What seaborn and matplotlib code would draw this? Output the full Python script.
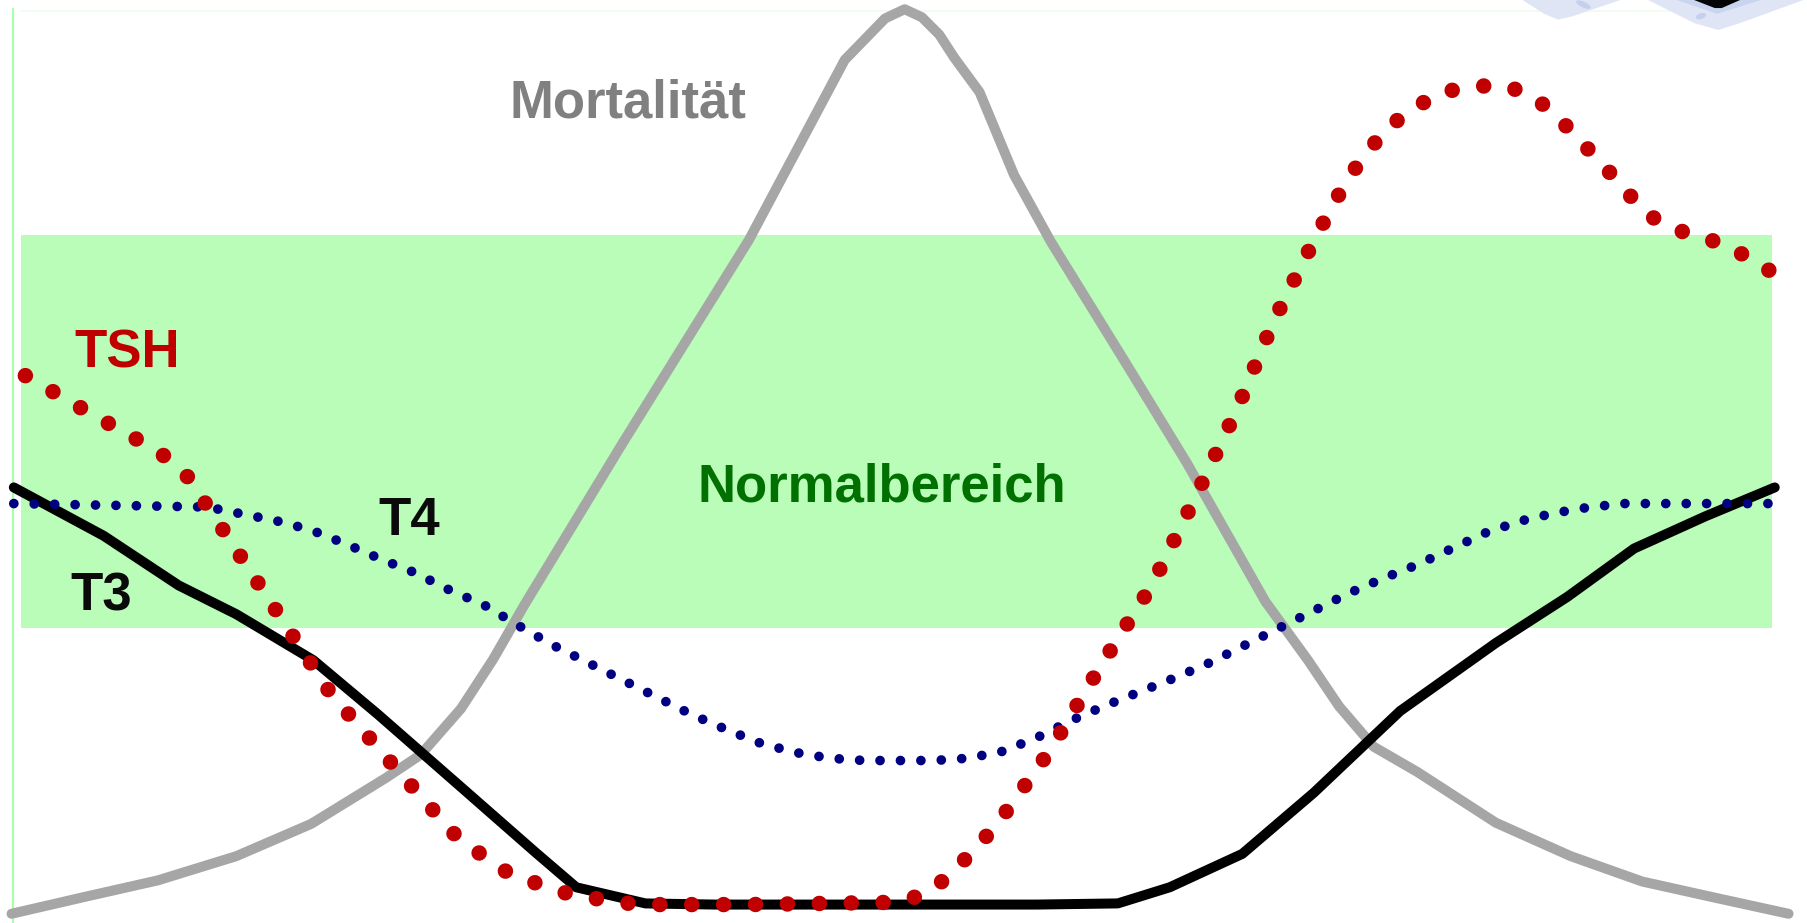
import matplotlib
matplotlib.use("Agg")
import matplotlib.pyplot as plt
import seaborn as sns
import pandas as pd
import numpy as np
from matplotlib.patches import Rectangle, Polygon, Ellipse

sns.set_theme(style="white")
plt.rcParams['font.family'] = ['Liberation Sans', 'DejaVu Sans']

# ---- data (x = position along time axis, y = level, image-like units, y grows downward) ----
t3_x = [12, 90, 155, 205, 272, 328, 400, 465, 500, 560, 620, 700, 800, 900, 970, 1015, 1078, 1140, 1215, 1298, 1360, 1418, 1480, 1540]
t3_y = [423, 465, 508, 533, 573, 620, 683, 740, 770, 784, 785, 785, 785, 785, 784, 770, 741, 688, 617, 558, 518, 476, 448, 423]

mort_x = [10, 75, 137, 205, 270, 335, 365, 400, 428, 455, 540, 650, 733, 768, 785, 800, 815, 828, 850, 880, 912, 975, 1030, 1098, 1135, 1162, 1192, 1230, 1298, 1363, 1425, 1488, 1552]
mort_y = [793, 778, 764, 743, 715, 675, 655, 615, 572, 525, 385, 208, 52, 16, 8, 15, 30, 50, 80, 152, 210, 312, 402, 522, 573, 613, 648, 670, 714, 743, 765, 779, 793]

tsh_x = [22, 72, 120, 143, 163, 195, 241, 287, 342, 398, 443, 497, 553, 650, 778, 803, 825, 864, 912, 955, 1000, 1037, 1073, 1105, 1143, 1170, 1203, 1247, 1277, 1305, 1330, 1352, 1390, 1428, 1450, 1477, 1502, 1527, 1552]
tsh_y = [326, 355, 382, 396, 414, 462, 532, 602, 665, 728, 759, 777, 785, 785, 783, 776, 759, 717, 650, 578, 507, 432, 356, 279, 203, 154, 111, 81, 75, 74, 83, 102, 142, 185, 198, 206, 214, 231, 242]

t4_x = [12, 180, 205, 240, 270, 300, 330, 360, 390, 420, 450, 480, 510, 540, 570, 600, 630, 660, 690, 720, 750, 780, 810, 840, 870, 900, 930, 960, 990, 1020, 1050, 1080, 1110, 1140, 1170, 1200, 1230, 1260, 1290, 1320, 1350, 1380, 1410, 1538]
t4_y = [437, 440, 445, 452, 460, 472, 485, 497, 512, 525, 543, 560, 575, 590, 605, 620, 633, 645, 653, 658, 660, 660, 660, 658, 652, 640, 625, 612, 600, 588, 575, 560, 545, 530, 515, 502, 490, 476, 462, 452, 445, 440, 437, 437]

band_x = [18, 1538]
band_y = [204, 545]

labels = ["Mortalität", "TSH", "T4", "T3", "Normalbereich"]
label_x = [545, 110, 355, 88, 765]
label_y = [90, 307, 452, 518, 423]
label_colors = ["#808080", "#c00000", "#0a0a0a", "#0a0a0a", "#007000"]

W, H = 1568, 801

fig = plt.figure(figsize=(18.07, 9.23), dpi=100)
ax = fig.add_axes([0, 0, 1, 1])
ax.set_xlim(0, W)
ax.set_ylim(H, 0)
ax.axis("off")

# normal range band
ax.add_patch(Rectangle((band_x[0], band_y[0]), band_x[1] - band_x[0], band_y[1] - band_y[0],
                       facecolor="#b9fdb9", edgecolor="none", zorder=0))
# thin frame lines
ax.plot([11.5, 11.5], [8, H], color="#aaffaa", lw=1.6, zorder=0.5)
ax.plot([18, 1460], [9.5, 9.5], color="#effcef", lw=1.2, zorder=0.5)

# clip-art fragments top right
ax.add_patch(Polygon([[1321, 0], [1340, 12], [1352, 17], [1365, 14], [1406, 0]], closed=True,
                     facecolor="#dfe5f5", edgecolor="none", zorder=0.6))
ax.add_patch(Polygon([[1430, 0], [1470, 20], [1491, 26], [1510, 20], [1565, 0]], closed=True,
                     facecolor="#dfe5f5", edgecolor="none", zorder=0.6))
ax.add_patch(Polygon([[1455, 0], [1490, 12], [1528, 0]], closed=True,
                     facecolor="#c9d4ef", edgecolor="none", zorder=0.65))
ax.add_patch(Polygon([[1470, 0], [1488, 7], [1494, 7], [1510, 0]], closed=True,
                     facecolor="#050505", edgecolor="none", zorder=0.7))
ax.add_patch(Ellipse((1374, 4), 14, 5, angle=25, facecolor="#c5d0ec", edgecolor="none", zorder=0.7))
ax.add_patch(Ellipse((1476, 14), 9, 5, angle=-20, facecolor="#c5d0ec", edgecolor="none", zorder=0.7))

df_m = pd.DataFrame({"x": mort_x, "y": mort_y})
df_t3 = pd.DataFrame({"x": t3_x, "y": t3_y})
df_tsh = pd.DataFrame({"x": tsh_x, "y": tsh_y})
df_t4 = pd.DataFrame({"x": t4_x, "y": t4_y})

sns.lineplot(data=df_m, x="x", y="y", sort=False, estimator=None, ax=ax,
             color="#a6a6a6", lw=7.2, solid_capstyle="round", zorder=2)
sns.lineplot(data=df_t3, x="x", y="y", sort=False, estimator=None, ax=ax,
             color="#000000", lw=7.2, solid_capstyle="round", zorder=3)
sns.lineplot(data=df_t4, x="x", y="y", sort=False, estimator=None, ax=ax,
             color="#000080", lw=7.0, linestyle=(0, (0.001, 2.1)), dash_capstyle="round", zorder=4)
sns.lineplot(data=df_tsh, x="x", y="y", sort=False, estimator=None, ax=ax,
             color="#c00000", lw=11.2, linestyle=(0, (0.001, 2.05)), dash_capstyle="round", zorder=5)

ax.set_xlim(0, W)
ax.set_ylim(H, 0)
ax.axis("off")

for txt, x, y, c in zip(labels, label_x, label_y, label_colors):
    ax.text(x, y, txt, color=c, fontsize=38, fontweight="bold", ha="center", va="center", zorder=6)

fig.savefig("out.png", dpi=100)
